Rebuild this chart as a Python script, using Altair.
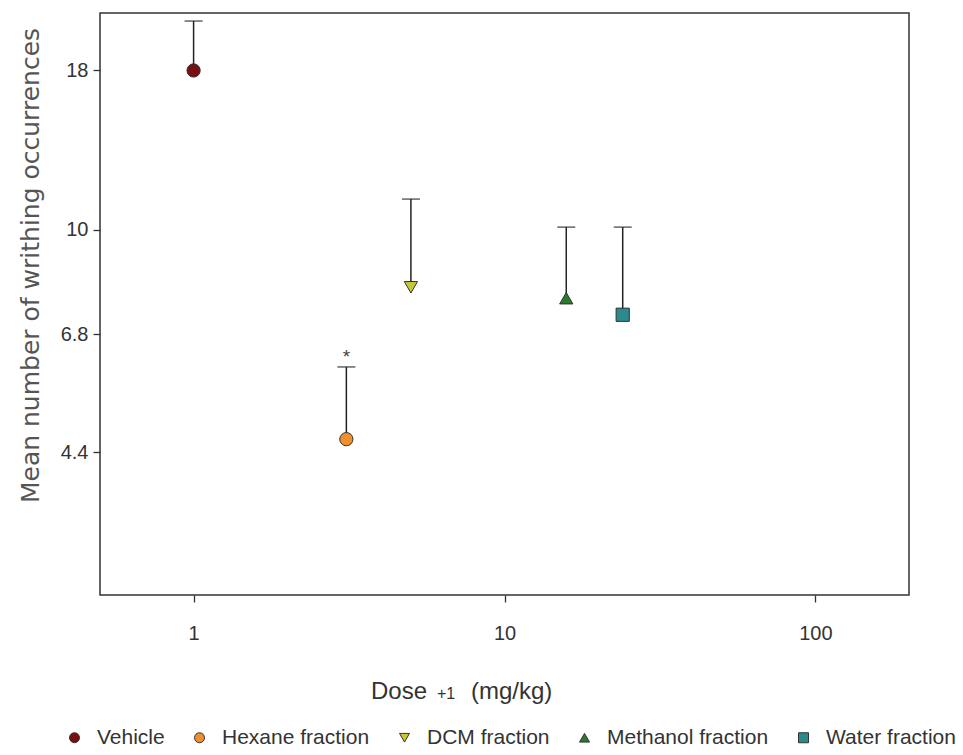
import altair as alt
import pandas as pd

groups = ["Vehicle", "Hexane fraction", "DCM fraction", "Methanol fraction", "Water fraction"]
dose_plus1 = [1.0, 3.1, 5.0, 15.8, 24.0]
mean_writhes = [18.0, 4.62, 8.09, 7.77, 7.31]
upper_err = [21.6, 6.03, 11.2, 10.1, 10.1]
signif = ["", "*", "", "", ""]

colors = ["#7a0f12", "#f0902c", "#c9c636", "#2d7a2f", "#2a8a8c"]
shapes = ["circle", "circle", "triangle-down", "triangle-up", "square"]

y_ticks = [4.4, 6.8, 10, 18]
x_ticks = [1, 10, 100]

df = pd.DataFrame({
    "group": groups,
    "dose": dose_plus1,
    "mean": mean_writhes,
    "upper": upper_err,
    "sig": signif,
})

xscale = alt.Scale(type="log", domain=[0.5, 200], nice=False)
yscale = alt.Scale(type="log", domain=[2.6, 22.25], nice=False)

x_axis = alt.Axis(values=x_ticks, format="~g", title=None, domain=False, grid=False,
                  tickSize=7, tickColor="#333", tickWidth=1.3,
                  labelFont="Liberation Sans", labelFontSize=20, labelColor="#333",
                  labelPadding=21)
y_axis = alt.Axis(values=y_ticks, format="~g", title="Mean number of writhing occurrences",
                  domain=False, grid=False, tickSize=7, tickColor="#333", tickWidth=1.3,
                  labelFont="Liberation Sans", labelFontSize=20, labelColor="#333",
                  labelPadding=5,
                  titleFont="DejaVu Sans", titleFontSize=25, titleFontWeight="normal",
                  titleColor="#555", titleX=-70, titleY=252, titleAngle=-90,
                  titleAlign="center", titleBaseline="middle")

base = alt.Chart(df)

rules = base.mark_rule(color="#222", strokeWidth=1.5).encode(
    x=alt.X("dose:Q", scale=xscale, axis=x_axis),
    y=alt.Y("mean:Q", scale=yscale, axis=y_axis),
    y2="upper:Q",
)

caps = base.mark_tick(color="#222", thickness=1.5, size=18, orient="horizontal").encode(
    x=alt.X("dose:Q", scale=xscale),
    y=alt.Y("upper:Q", scale=yscale),
)

stars = base.mark_text(dy=-10, fontSize=19, font="Liberation Sans", color="#444").encode(
    x=alt.X("dose:Q", scale=xscale),
    y=alt.Y("upper:Q", scale=yscale),
    text="sig:N",
)

points = base.mark_point(filled=True, size=175, stroke="#333", strokeWidth=1, opacity=1).encode(
    x=alt.X("dose:Q", scale=xscale),
    y=alt.Y("mean:Q", scale=yscale),
    color=alt.Color("group:N", scale=alt.Scale(domain=groups, range=colors),
                    legend=alt.Legend(title=None, orient="none", legendX=-36, legendY=714,
                                      direction="horizontal", columns=5,
                                      labelFont="Liberation Sans", labelFontSize=21,
                                      labelLimit=400,
                                      labelColor="#333", symbolSize=100, labelOffset=12,
                                      columnPadding=24, symbolStrokeColor="#333",
                                      symbolStrokeWidth=1)),
    shape=alt.Shape("group:N", scale=alt.Scale(domain=groups, range=shapes)),
)

title_parts = ["Dose", "+1", "(mg/kg)"]
title_x = [271, 337, 371]
title_size = [24, 16, 24]
tdf = pd.DataFrame({"t": title_parts, "x": title_x, "s": title_size})
xtitle = alt.Chart(tdf).mark_text(align="left", baseline="alphabetic", font="Liberation Sans").encode(
    x=alt.X("x:Q", scale=None),
    y=alt.value(686),
    text="t:N",
    size=alt.Size("s:Q", scale=None, legend=None),
    color=alt.value("#333"),
)

chart = alt.layer(rules, caps, stars, points, xtitle).properties(
    width=809, height=582,
    autosize=alt.AutoSizeParams(type="none"),
    padding={"left": 100, "top": 13, "right": 54, "bottom": 160},
    background="white",
).configure_view(stroke="#333", strokeWidth=1.5)

chart.save("out.html", embed_options={"renderer": "svg", "actions": False})
